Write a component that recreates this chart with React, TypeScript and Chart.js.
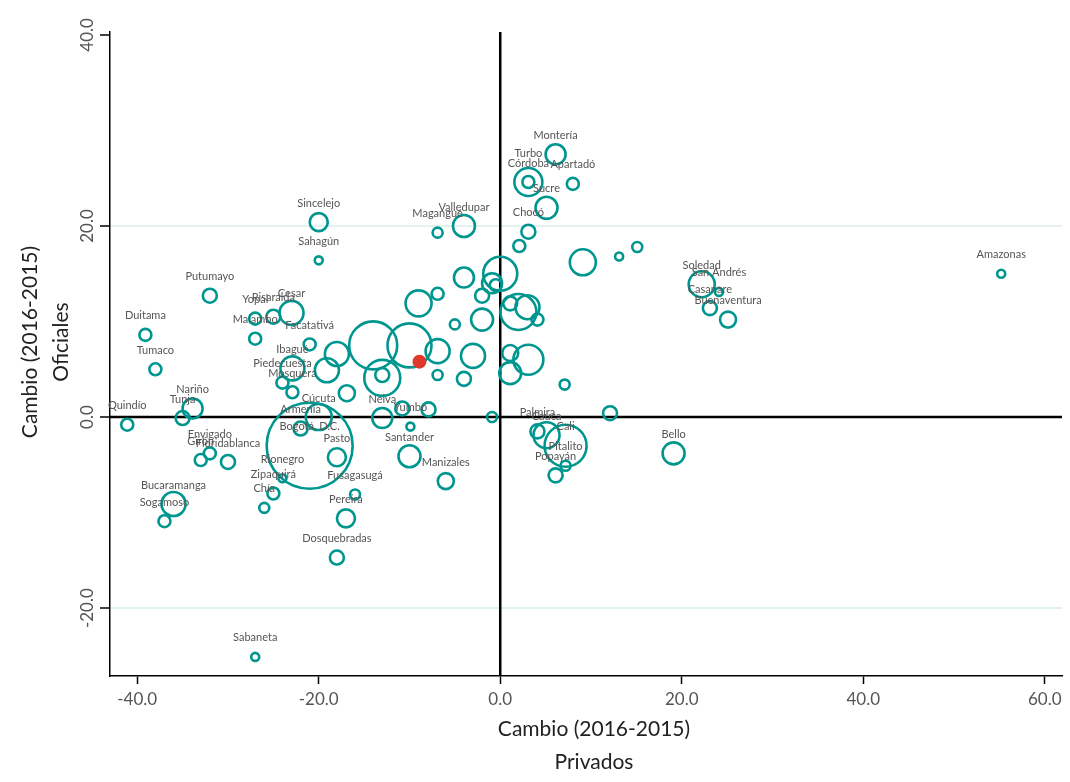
import React, { useEffect, useRef } from "react";
import { Chart, registerables } from "chart.js";

Chart.register(...registerables);

// Municipios / departamentos ("" = sin etiqueta)
const municipios: string[] = [
  "Quindío", "Duitama", "Tumaco", "Putumayo", "Nariño", "Tunja", "Envigado", "Floridablanca", "Girón",
  "Bucaramanga", "Sogamoso", "Rionegro", "Zipaquirá", "Chía", "Bogotá, D.C.", "Armenia", "Cúcuta", "Pasto",
  "Fusagasugá", "Pereira", "Dosquebradas", "Sabaneta", "Santander", "Manizales", "Neiva", "Yumbo", "Ibagué",
  "Piedecuesta", "Mosquera", "Facatativá", "Cesar", "Risaralda", "Yopal", "Malambo", "Sincelejo", "Sahagún",
  "Magangué", "Valledupar", "Montería", "Turbo", "Córdoba", "Apartadó", "Sucre", "Chocó", "Soledad",
  "San Andrés", "Casanare", "Buenaventura", "Amazonas", "Palmira", "Cauca", "Cali", "Pitalito", "Popayán", "Bello",
  "", "", "", "", "", "", "", "", "", "", "", "", "", "", "", "", "", "", "", "", "", "", "", "", "", "", "", "", "", "", "", "", "", "", "", "",
];

// Cambio (2016-2015) Privados
const privados: number[] = [
  -41.1, -39.1, -38.0, -32.0, -33.9, -35.0, -32.0, -30.0, -33.0,
  -36.0, -37.0, -24.0, -25.0, -26.0, -21.0, -22.0, -20.0, -18.0,
  -16.0, -17.0, -18.0, -27.0, -10.0, -6.0, -13.0, -9.9, -22.9,
  -24.0, -22.9, -21.0, -23.0, -25.0, -27.0, -27.0, -20.0, -20.0,
  -6.9, -4.0, 6.1, 3.1, 3.1, 8.0, 5.1, 3.1, 22.2,
  24.1, 23.1, 25.1, 55.2, 4.1, 5.1, 7.2, 7.2, 6.1, 19.1,
  -4.0, -6.9, -9.0, 0.0, -0.9, -0.5, -2.0, 2.1, 1.1, 2.0, 3.0, 4.1, -2.0, -5.0, -14.0, -10.0,
  -6.9, -3.0, 1.1, 3.1, 1.1, -18.0, -19.1, -13.0, -13.0, -6.9, -4.0, -16.9, -10.8, -7.9, -0.9,
  7.1, 12.1, 9.1, 13.1, 15.1,
];

// Cambio (2016-2015) Oficiales
const oficiales: number[] = [
  -0.8, 8.6, 5.0, 12.7, 0.9, -0.1, -3.8, -4.7, -4.5,
  -9.1, -10.9, -6.4, -8.0, -9.5, -3.0, -1.2, 0.0, -4.2,
  -8.1, -10.6, -14.7, -25.1, -4.1, -6.7, -0.1, -1.0, 5.1,
  3.6, 2.6, 7.6, 10.9, 10.5, 10.3, 8.2, 20.4, 16.4,
  19.3, 20.0, 27.5, 24.6, 24.6, 24.4, 21.9, 19.4, 13.9,
  13.1, 11.4, 10.2, 15.0, -1.5, -1.9, -3.0, -5.1, -6.1, -3.8,
  14.6, 12.9, 11.9, 15.0, 14.0, 13.8, 12.7, 17.9, 11.9, 11.0, 11.5, 10.2, 10.2, 9.7, 7.5, 7.5,
  6.9, 6.4, 6.7, 6.0, 4.6, 6.6, 4.9, 4.1, 4.4, 4.4, 4.0, 2.5, 0.9, 0.8, 0.0,
  3.4, 0.4, 16.2, 16.8, 17.8,
];

// Tamaño relativo de cada burbuja
const tamano: number[] = [
  6, 6, 6, 7, 10, 7, 6, 7, 6,
  12, 6, 4, 6, 5, 43, 7, 13, 9,
  5, 9, 7, 4, 11, 8, 10, 4, 12,
  6, 6, 6, 12, 7, 6, 6, 9, 4,
  5, 11, 10, 6, 14, 6, 11, 7, 13,
  4, 7, 8, 4, 7, 13, 21, 5, 7, 11,
  10, 6, 13, 17, 10, 6, 7, 6, 7, 18, 12, 6, 11, 5, 24, 22,
  12, 12, 8, 15, 11, 12, 12, 18, 7, 5, 7, 8, 7, 7, 5,
  5, 7, 13, 4, 5,
];

// Punto de referencia (total)
const refPrivados: number[] = [-8.9];
const refOficiales: number[] = [5.8];
const refTamano: number[] = [7];

const xTicks: number[] = [-40, -20, 0, 20, 40, 60];
const yTicks: number[] = [-20, 0, 20, 40];
const xTitle: string[] = ["Cambio (2016-2015)", "Privados"];
const yTitle: string[] = ["Cambio (2016-2015)", "Oficiales"];

const FONT = "Lato, 'Open Sans', sans-serif";
const TEAL = "#009690";

export default function App() {
  const ref = useRef<HTMLCanvasElement | null>(null);

  useEffect(() => {
    if (!ref.current) return;

    const zeroLines = {
      id: "zeroLines",
      beforeDatasetsDraw(chart: any) {
        const { ctx, chartArea, scales } = chart;
        const x0 = scales.x.getPixelForValue(0);
        const y0 = scales.y.getPixelForValue(0);
        ctx.save();
        ctx.strokeStyle = "#000";
        ctx.lineWidth = 2.5;
        ctx.beginPath();
        ctx.moveTo(x0, chartArea.top);
        ctx.lineTo(x0, chartArea.bottom);
        ctx.moveTo(chartArea.left, y0);
        ctx.lineTo(chartArea.right, y0);
        ctx.stroke();
        ctx.restore();
      },
    };

    const pointLabels = {
      id: "pointLabels",
      afterDatasetsDraw(chart: any) {
        const { ctx } = chart;
        const meta = chart.getDatasetMeta(1);
        ctx.save();
        ctx.font = `11px ${FONT}`;
        ctx.fillStyle = "#555";
        ctx.textAlign = "center";
        ctx.textBaseline = "middle";
        meta.data.forEach((el: any, i: number) => {
          const t = municipios[i];
          if (!t) return;
          const lift = t === "Turbo" ? 29 : 19;
          ctx.fillText(t, el.x, el.y - lift);
        });
        ctx.restore();
      },
    };

    const axisText = {
      id: "axisText",
      afterDraw(chart: any) {
        const { ctx, scales, chartArea } = chart;
        ctx.save();
        ctx.font = `17px ${FONT}`;
        ctx.fillStyle = "#555";
        ctx.textAlign = "center";
        ctx.textBaseline = "middle";
        xTicks.forEach((v) => {
          const px = scales.x.getPixelForValue(v);
          ctx.fillText(v.toFixed(1), px, 700);
        });
        yTicks.forEach((v) => {
          const py = scales.y.getPixelForValue(v);
          ctx.save();
          ctx.translate(88, py);
          ctx.rotate(-Math.PI / 2);
          ctx.fillText(v.toFixed(1), 0, 0);
          ctx.restore();
        });
        ctx.font = `21px ${FONT}`;
        ctx.fillStyle = "#222";
        const cx = (chartArea.left + chartArea.right) / 2 + 8;
        ctx.fillText(xTitle[0], cx, 729);
        ctx.fillText(xTitle[1], cx, 762);
        ctx.save();
        ctx.translate(30, 342);
        ctx.rotate(-Math.PI / 2);
        ctx.fillText(yTitle[0], 0, 0);
        ctx.restore();
        ctx.save();
        ctx.translate(61, 342);
        ctx.rotate(-Math.PI / 2);
        ctx.fillText(yTitle[1], 0, 0);
        ctx.restore();
        ctx.restore();
      },
    };

    const chart = new Chart(ref.current, {
      type: "bubble",
      data: {
        datasets: [
          {
            label: "Total",
            data: refPrivados.map((x, i) => ({ x, y: refOficiales[i], r: refTamano[i] })),
            backgroundColor: "#e0382b",
            borderColor: "#e0382b",
            borderWidth: 0,
            order: 0,
          },
          {
            label: "Municipios",
            data: privados.map((x, i) => ({ x, y: oficiales[i], r: tamano[i] })),
            backgroundColor: "rgba(0,0,0,0)",
            borderColor: TEAL,
            borderWidth: 2.6,
            order: 1,
          },
        ],
      },
      options: {
        responsive: false,
        animation: false,
        events: [],
        layout: { autoPadding: false, padding: { top: 32, right: 8, left: 0, bottom: 0 } },
        plugins: { legend: { display: false }, tooltip: { enabled: false } },
        scales: {
          x: {
            type: "linear",
            min: -43,
            max: 61.9,
            afterBuildTicks: (s: any) => {
              s.ticks = xTicks.map((v) => ({ value: v }));
            },
            afterFit: (s: any) => {
              s.height = 106;
            },
            ticks: { display: false },
            grid: {
              drawOnChartArea: false,
              drawTicks: true,
              tickLength: 8,
              tickColor: "#000",
              tickWidth: 1.5,
            },
            border: { color: "#000", width: 1.5 },
          },
          y: {
            type: "linear",
            min: -27.1,
            max: 40.3,
            afterBuildTicks: (s: any) => {
              s.ticks = yTicks.map((v) => ({ value: v }));
            },
            afterFit: (s: any) => {
              s.width = 110;
            },
            ticks: { display: false },
            grid: {
              drawOnChartArea: true,
              drawTicks: true,
              tickLength: 10,
              tickColor: "#000",
              tickWidth: 1.5,
              lineWidth: 2,
              color: (c: any) =>
                c.tick && (c.tick.value === 20 || c.tick.value === -20) ? "#e4f1f1" : "rgba(0,0,0,0)",
            },
            border: { color: "#000", width: 1.5 },
          },
        },
      },
      plugins: [zeroLines, pointLabels, axisText],
    });

    return () => chart.destroy();
  }, []);

  return (
    <div style={{ position: "absolute", left: 0, top: 0, width: 1070, height: 782, background: "#fff" }}>
      <canvas ref={ref} width={1070} height={782} style={{ display: "block" }} />
    </div>
  );
}
